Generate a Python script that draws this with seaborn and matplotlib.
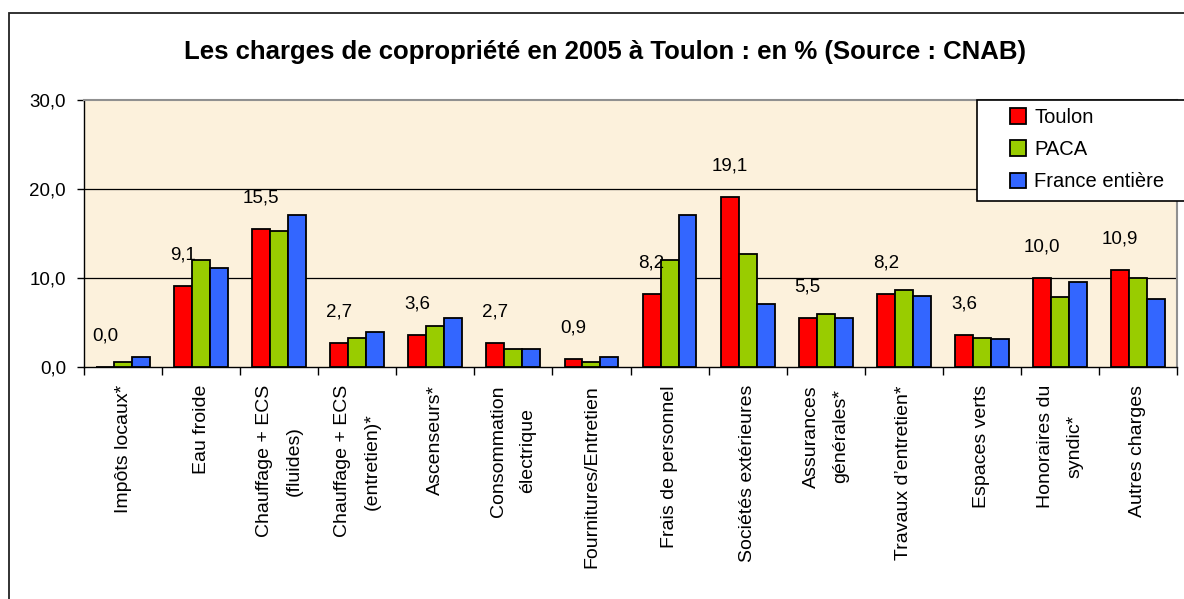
import matplotlib
matplotlib.use("Agg")
import matplotlib.pyplot as plt
from matplotlib.patches import Rectangle, Patch
from matplotlib.ticker import FuncFormatter, FixedLocator
import seaborn as sns
import pandas as pd
import numpy as np

categories = ["Impôts locaux*", "Eau froide", "Chauffage + ECS\n(fluides)",
              "Chauffage + ECS\n(entretien)*", "Ascenseurs*", "Consommation\nélectrique",
              "Fournitures/Entretien", "Frais de personnel", "Sociétés extérieures",
              "Assurances\ngénérales*", "Travaux d’entretien*", "Espaces verts",
              "Honoraires du\nsyndic*", "Autres charges"]
series = ["Toulon", "PACA", "France entière"]
toulon = [0.0, 9.1, 15.5, 2.7, 3.6, 2.7, 0.9, 8.2, 19.1, 5.5, 8.2, 3.6, 10.0, 10.9]
paca = [0.6, 12.0, 15.3, 3.3, 4.6, 2.0, 0.6, 12.0, 12.7, 6.0, 8.7, 3.3, 7.9, 10.0]
france = [1.1, 11.1, 17.1, 3.9, 5.5, 2.0, 1.1, 17.1, 7.1, 5.5, 8.0, 3.1, 9.6, 7.6]
colors = ["#FF0000", "#99CC00", "#3366FF"]
yticks = [0, 10, 20, 30]
title = "Les charges de copropriété en 2005 à Toulon : en % (Source : CNAB)"

sns.set_style("white")
plt.rcParams['font.family'] = ['Liberation Sans', 'DejaVu Sans']
plt.rcParams['text.color'] = 'black'
plt.rcParams['xtick.color'] = 'black'
plt.rcParams['ytick.color'] = 'black'
plt.rcParams['axes.labelcolor'] = 'black'

df = pd.DataFrame({
    "cat": categories * 3,
    "serie": [series[0]] * len(categories) + [series[1]] * len(categories) + [series[2]] * len(categories),
    "val": toulon + paca + france,
})

W, H = 1184, 599
fig = plt.figure(figsize=(W / 100, H / 100), dpi=100)
fig.patch.set_facecolor("white")

# outer frame (partly cut off at right/bottom)
fig.add_artist(Rectangle((9 / W, -0.2), 1.5, 1 - 13 / H + 0.2, transform=fig.transFigure,
                         fill=False, edgecolor="#222222", linewidth=1.3))

ax = fig.add_axes([84 / W, 1 - 367 / H, (1177 - 84) / W, (367 - 100) / H])
ax.set_facecolor("#FCF1DC")

sns.barplot(data=df, x="cat", y="val", hue="serie", order=categories, hue_order=series,
            palette=dict(zip(series, colors)), width=0.69, edgecolor="black",
            linewidth=1.3, saturation=1, errorbar=None, ax=ax, legend=True, zorder=3)

ax.set_ylim(0, 30)
ax.set_xlim(-0.5, len(categories) - 0.5)
ax.yaxis.set_major_locator(FixedLocator(yticks))
ax.yaxis.set_major_formatter(FuncFormatter(lambda v, _: f"{v:.1f}".replace(".", ",")))
ax.set_xlabel("")
ax.set_ylabel("")

for yv in yticks[1:-1]:
    ax.axhline(yv, color="black", linewidth=0.9, zorder=1)

for side in ["left", "bottom"]:
    ax.spines[side].set_color("black")
    ax.spines[side].set_linewidth(1.0)
for side in ["top", "right"]:
    ax.spines[side].set_color("#909090")
    ax.spines[side].set_linewidth(1.5)

ax.tick_params(axis="y", which="major", direction="out", length=5, width=1, color="black",
               pad=8, labelsize=13.5, left=True, labelcolor="black")
ax.tick_params(axis="x", which="major", length=0, pad=13, labelcolor="black")
ax.set_xticks(range(len(categories)))
ax.set_xticklabels(categories, rotation=90, fontsize=14, ha="center", va="top",
                   multialignment="center", linespacing=1.95, color="black")
ax.set_xticks(np.arange(-0.5, len(categories), 1), minor=True)
ax.tick_params(axis="x", which="minor", direction="out", length=6, width=1, color="black", bottom=True)

# data labels for Toulon
ax.bar_label(ax.containers[0], labels=[f"{v:.1f}".replace(".", ",") for v in toulon],
             padding=16, fontsize=13.5, color="black", zorder=5)

# title
fig.text(605 / W, 1 - 52 / H, title, ha="center", va="center", fontsize=18.5,
         fontweight="bold", color="black")

# legend box
handles = [Patch(facecolor=c, edgecolor="black", linewidth=1.3) for c in colors]
ax.get_legend().remove()
fig.add_artist(Rectangle((977 / W, 1 - 201 / H), 0.3, (201 - 100) / H, transform=fig.transFigure,
                         facecolor="white", edgecolor="black", linewidth=1.2, zorder=10))
leg = fig.legend(handles, series, loc="upper left", bbox_to_anchor=(999 / W, 1 - 97 / H),
                 frameon=False, fontsize=14.5, handlelength=0.8, handleheight=0.8,
                 handletextpad=0.4, labelspacing=0.65, borderpad=0.05)
leg.set_zorder(11)
for t in leg.get_texts():
    t.set_color("black")

fig.savefig("out.png", dpi=100)
